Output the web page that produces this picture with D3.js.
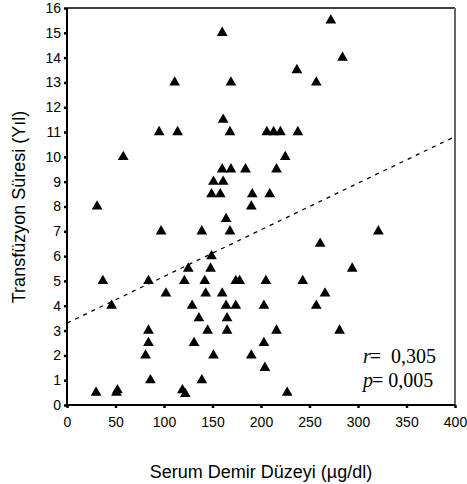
<!DOCTYPE html>
<html lang="en">
<head>
  <meta charset="utf-8">
  <title>Serum Demir Düzeyi</title>
  <script src="https://d3js.org/d3.v7.min.js"></script>
  <style>
    body { margin: 0; background: #fff; }
    .tick text { font-family: "Liberation Sans", Arial, sans-serif; font-size: 14px; fill: #000; }
    .tick line { stroke: #000; stroke-width: 2.5; }
    .domain { display: none; }
    .label { font-family: "Liberation Sans", Arial, sans-serif; font-size: 18px; }
    .stat { font-family: "Liberation Serif", "Times New Roman", serif; font-size: 20px; }
  </style>
</head>
<body>
<script>
  // serum iron (x) vs transfusion years (y)
  const serumIron = [160, 237, 111, 169, 161, 95, 114, 168, 206, 213, 220, 238, 225, 272, 284, 257,
    58, 31, 37, 84, 160, 169, 184, 216, 151, 161, 149, 158, 191, 209, 190, 164, 97, 139, 168,
    149, 125, 148, 121, 142, 174, 178, 205, 243, 321, 261, 294, 46, 84, 84, 81, 86, 30, 51, 52,
    102, 143, 160, 129, 164, 174, 203, 136, 165, 145, 165, 216, 131, 203, 151, 190, 204, 139,
    119, 122, 227, 266, 257, 281];
  const transfusionYears = [15, 13.5, 13, 13, 11.5, 11, 11, 11, 11, 11, 11, 11, 10, 15.5, 14, 13,
    10, 8, 5, 5, 9.5, 9.5, 9.5, 9.5, 9, 9, 8.5, 8.5, 8.5, 8.5, 8, 7.5, 7, 7, 7,
    6, 5.5, 5.5, 5, 5, 5, 5, 5, 5, 7, 6.5, 5.5, 4, 3, 2.5, 2, 1, 0.5, 0.5, 0.6,
    4.5, 4.5, 4.5, 4, 4, 4, 4, 3.5, 3.5, 3, 3, 3, 2.5, 2.5, 2, 2, 1.5, 1,
    0.6, 0.45, 0.5, 4.5, 4, 3];
  const xTicks = [0, 50, 100, 150, 200, 250, 300, 350, 400];
  const yTicks = d3.range(0, 17);
  // fitted line: intercept and slope
  const fit = { a: 3.3, b: 0.0188 };
  const statLines = [["r", "=  0,305"], ["p", "= 0,005"]];

  const width = 467, height = 484;
  const svg = d3.select("body").append("svg")
    .attr("width", width)
    .attr("height", height);

  const x = d3.scaleLinear().domain([0, 400]).range([67, 455]);
  const y = d3.scaleLinear().domain([0, 16]).range([405, 8]);

  // frame
  svg.append("line").attr("x1", x(0)).attr("x2", x(400)).attr("y1", y(16)).attr("y2", y(16))
    .attr("stroke", "#000").attr("stroke-width", 1.5);
  svg.append("line").attr("x1", x(400)).attr("x2", x(400)).attr("y1", y(16)).attr("y2", y(0))
    .attr("stroke", "#666").attr("stroke-width", 2);

  svg.append("g")
    .attr("transform", "translate(0," + y(0) + ")")
    .call(d3.axisBottom(x).tickValues(xTicks).tickSize(3).tickPadding(9).tickSizeOuter(0));

  svg.append("g")
    .attr("transform", "translate(" + x(0) + ",0)")
    .call(d3.axisLeft(y).tickValues(yTicks).tickSize(3).tickPadding(3).tickSizeOuter(0));

  svg.append("line").attr("x1", x(0)).attr("x2", x(0)).attr("y1", y(16)).attr("y2", y(0))
    .attr("stroke", "#000").attr("stroke-width", 2);
  svg.append("line").attr("x1", x(0)).attr("x2", x(400)).attr("y1", y(0)).attr("y2", y(0))
    .attr("stroke", "#000").attr("stroke-width", 2);

  // regression line
  svg.append("line")
    .attr("x1", x(0)).attr("y1", y(fit.a))
    .attr("x2", x(400)).attr("y2", y(fit.a + fit.b * 400))
    .attr("stroke", "#000")
    .attr("stroke-width", 1.3)
    .attr("stroke-dasharray", "4,5");

  // points
  const tri = d3.symbol().type(d3.symbolTriangle).size(50);
  svg.selectAll(".pt")
    .data(serumIron.map((v, i) => [v, transfusionYears[i]]))
    .enter().append("path")
    .attr("class", "pt")
    .attr("d", tri)
    .attr("transform", d => "translate(" + x(d[0]) + "," + y(d[1]) + ")")
    .attr("fill", "#000");

  // r and p
  statLines.forEach((s, i) => {
    const t = svg.append("text").attr("class", "stat")
      .attr("x", 363).attr("y", 363 + i * 24);
    t.append("tspan").style("font-style", "italic").text(s[0]);
    t.append("tspan").attr("dx", -1).style("white-space", "pre").text(s[1]);
  });

  svg.append("text").attr("class", "label")
    .attr("transform", "translate(25,207) rotate(-90)")
    .attr("text-anchor", "middle")
    .text("Transfüzyon Süresi (Yıl)");

  svg.append("text").attr("class", "label")
    .attr("x", 261).attr("y", 478)
    .attr("text-anchor", "middle")
    .text("Serum Demir Düzeyi (µg/dl)");
</script>
</body>
</html>
